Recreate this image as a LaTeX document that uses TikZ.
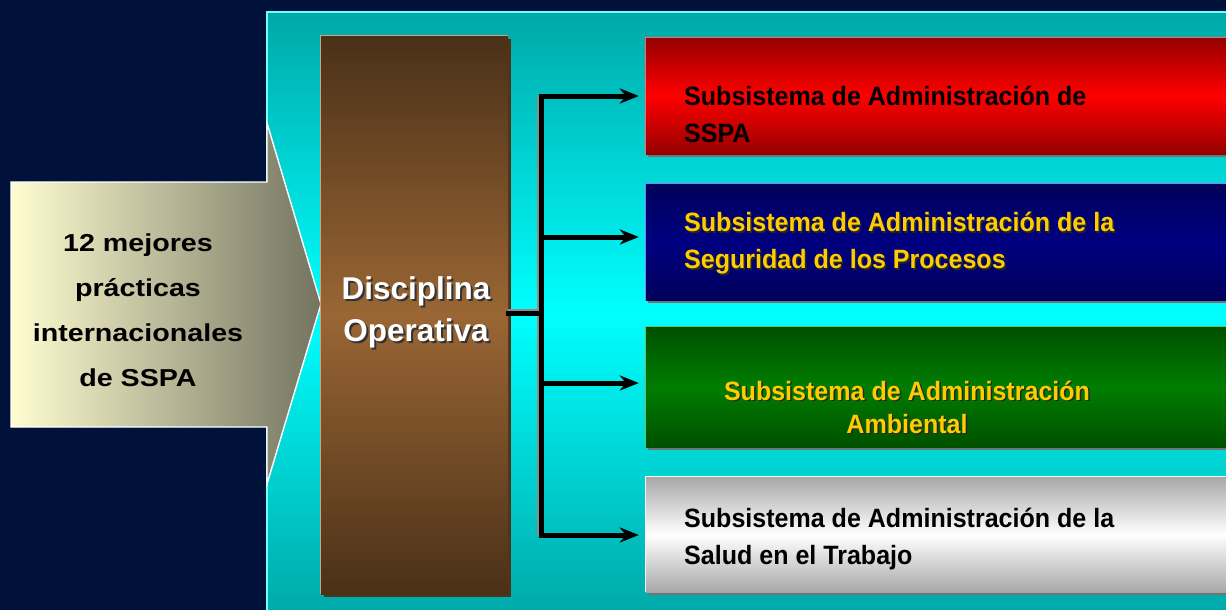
\documentclass[tikz,border=0pt]{standalone}
\usepackage{fontspec}
\setmainfont{Liberation Sans}
\newfontfamily\subfont[FakeStretch=0.945]{Liberation Sans}
\newfontfamily\widefont[FakeStretch=1.17]{Liberation Sans}
\usetikzlibrary{arrows.meta}
\definecolor{navybg}{RGB}{0,18,58}
\definecolor{tealdark}{RGB}{0,168,168}
\definecolor{tealmid}{RGB}{0,255,255}
\definecolor{panelline}{RGB}{110,255,255}
\definecolor{ayellow}{RGB}{255,253,208}
\definecolor{agray}{RGB}{115,115,96}
\definecolor{browndark}{RGB}{74,48,24}
\definecolor{brownmid}{RGB}{154,102,52}
\definecolor{brownshadow}{RGB}{80,52,26}
\definecolor{browntan}{RGB}{200,165,125}
\definecolor{reddark}{RGB}{150,0,0}
\definecolor{redmid}{RGB}{255,0,0}
\definecolor{navydark}{RGB}{0,0,90}
\definecolor{navymid}{RGB}{0,0,128}
\definecolor{greendark}{RGB}{0,80,0}
\definecolor{greenmid}{RGB}{0,125,0}
\definecolor{graydark}{RGB}{168,168,168}
\definecolor{subyellow}{RGB}{255,204,0}
\tikzset{
  sbox/.style={rectangle, minimum width=584pt, minimum height=116pt, inner sep=0pt},
  subtext/.style={inner sep=0pt, align=left, font=\subfont\fontsize{26.5}{37}\selectfont\bfseries},
  conn/.style={line width=5pt, black, -{Stealth[length=19pt,width=15pt,inset=6pt]}, shorten >=7pt},
  connhi/.style={line width=5pt, black!45},
  bus/.style={line width=5pt, black, line cap=rect},
}
\begin{document}
\begin{tikzpicture}[x=1pt,y=-1pt]
\useasboundingbox (0,0) rectangle (1226,610);
\fill[navybg] (0,0) rectangle (1226,610);
% teal panel
\shade[top color=tealdark, bottom color=tealdark, middle color=tealmid] (267,12) rectangle (1232,616);
\draw[panelline, line width=1.2pt] (267,616) -- (267,12) -- (1232,12);
% left block arrow
\shade[left color=ayellow, right color=agray, draw=white, line width=1.4pt]
  (11,182) -- (267,182) -- (267,123) -- (321,304) -- (267,484) -- (267,427) -- (11,427) -- cycle;
\node[inner sep=0pt, align=center, font=\widefont\fontsize{24.5}{45}\selectfont\bfseries] (practicas) at (138,310.5)
  {12 mejores\\prácticas\\internacionales\\de SSPA};
% brown box
\fill[brownshadow] (324,39) rectangle (511,597);
\node[rectangle, minimum width=187pt, minimum height=558pt, inner sep=0pt,
  top color=browndark, bottom color=browndark, middle color=brownmid] (disc) at (414.5,315) {};
\draw[browntan, line width=1.2pt] (disc.south west) -- (disc.north west) -- (disc.north east);
\node[inner sep=0pt, align=center, font=\fontsize{31.5}{42}\selectfont\bfseries, text=black!80] (discshadow) at (418,314) {Disciplina\\Operativa};
\node[inner sep=0pt, align=center, font=\fontsize{31.5}{42}\selectfont\bfseries, text=white] (disctxt) at (416,312) {Disciplina\\Operativa};
% right boxes
\fill[black!55] (648,41) rectangle (1232,157);
\node[sbox, top color=reddark, bottom color=reddark, middle color=redmid] (b1) at (938,96) {};
\draw[red!60!white, line width=1pt] (b1.south west) -- (b1.north west) -- (b1.north east);
\fill[black!55] (648,187) rectangle (1232,303);
\node[sbox, top color=navydark, bottom color=navydark, middle color=navymid] (b2) at (938,242) {};
\draw[blue!50!white, line width=1pt] (b2.south west) -- (b2.north west) -- (b2.north east);
\fill[black!55] (648,330) rectangle (1232,450);
\node[sbox, minimum height=120pt, top color=greendark, bottom color=greendark, middle color=greenmid] (b3) at (938,387) {};
\draw[green!60!black!60!white, line width=1pt] (b3.south west) -- (b3.north west) -- (b3.north east);
\fill[black!55] (648,480) rectangle (1232,595);
\node[sbox, minimum height=115pt, top color=graydark, bottom color=graydark, middle color=white] (b4) at (938,534.5) {};
\draw[white, line width=1.2pt] (b4.south west) -- (b4.north west) -- (b4.north east);
% texts in boxes
\node[subtext, anchor=west, text=black] (t1) at (684,114) {Subsistema de Administración de\\SSPA};
\node[subtext, anchor=west, text=black!85] (t2s) at (685.5,245) {Subsistema de Administración de la\\Seguridad de los Procesos};
\node[subtext, anchor=west, text=subyellow] (t2) at (684,243.5) {Subsistema de Administración de la\\Seguridad de los Procesos};
\node[subtext, align=center, font=\subfont\fontsize{26.5}{33}\selectfont\bfseries, text=black!85] (t3s) at (908.5,408.5) {Subsistema de Administración\\Ambiental};
\node[subtext, align=center, font=\subfont\fontsize{26.5}{33}\selectfont\bfseries, text=subyellow] (t3) at (907,407) {Subsistema de Administración\\Ambiental};
\node[subtext, anchor=west, text=black] (t4) at (684,539) {Subsistema de Administración de la\\Salud en el Trabajo};
% connectors
\coordinate (c1) at (541,96);
\coordinate (c2) at (541,237);
\coordinate (c3) at (541,383);
\coordinate (c4) at (541,535);
\coordinate (cj) at (541,313);
\draw[connhi] ([yshift=1.5pt]disc.east |- cj) -- ([yshift=1.5pt]cj);
\draw[connhi] ([xshift=-1.5pt]c1) -- ([xshift=-1.5pt]c4);
\draw[bus] (disc.east |- cj) -- (cj);
\draw[bus] (c1) -- (c4);
\draw[conn] (c1) -- (b1.west |- c1);
\draw[conn] (c2) -- (b2.west |- c2);
\draw[conn] (c3) -- (b3.west |- c3);
\draw[conn] (c4) -- (b4.west |- c4);
\end{tikzpicture}
\end{document}
